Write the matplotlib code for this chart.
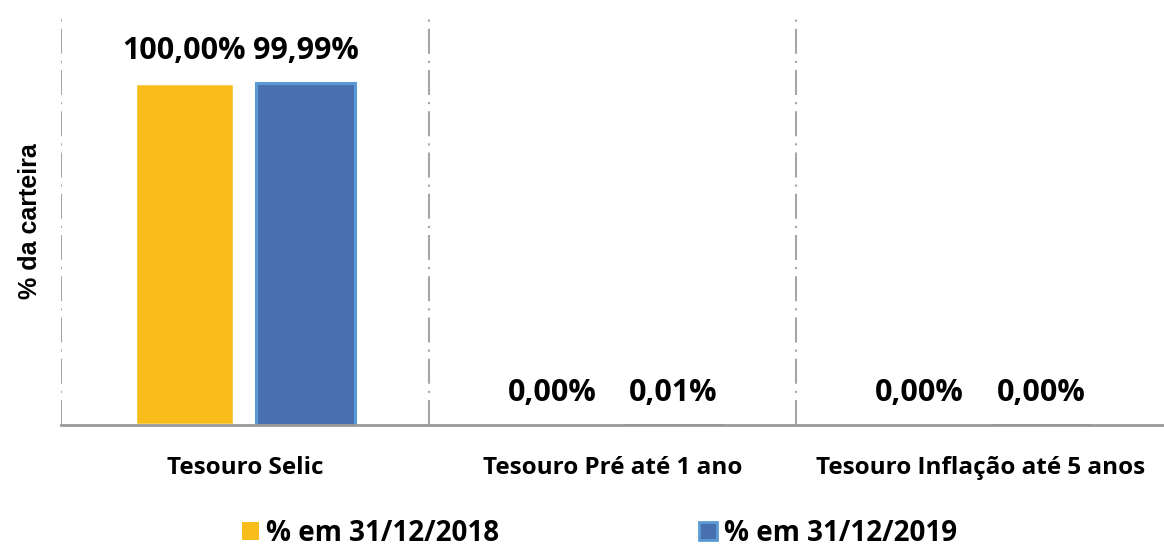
import matplotlib
matplotlib.use("Agg")
import matplotlib.pyplot as plt
from matplotlib.patches import Patch

plt.rcParams['font.family'] = ['Open Sans', 'DejaVu Sans']

categories = ["Tesouro Selic", "Tesouro Pré até 1 ano", "Tesouro Inflação até 5 anos"]
series_names = ["% em 31/12/2018", "% em 31/12/2019"]
values_2018 = [100.00, 0.00, 0.00]
values_2019 = [99.99, 0.01, 0.00]
labels_2018 = ["100,00%", "0,00%", "0,00%"]
labels_2019 = ["99,99%", "0,01%", "0,00%"]

yellow = "#F8BD1A"
blue_face = "#4970AE"
blue_edge = "#5B9BD5"
grid_col = "#A6A6A6"

fig = plt.figure(figsize=(11.64, 5.48), dpi=100)
ax = fig.add_axes([61/1164, 1-425/548, 1-61/1164, (425-17)/548])

x = list(range(len(categories)))
off = 0.165
w = 0.27
b1 = ax.bar([i - off for i in x], values_2018, width=w, color=yellow,
            edgecolor="white", linewidth=2.5, zorder=3)
b2 = ax.bar([i + off for i in x], values_2019, width=w, color=blue_face,
            edgecolor=blue_edge, linewidth=2.2, zorder=3)

for bars, labs in ((b1, labels_2018), (b2, labels_2019)):
    for rect, lab in zip(bars, labs):
        ax.annotate(lab, (rect.get_x() + rect.get_width()/2, rect.get_height()),
                    xytext=(0, 12), textcoords="offset points",
                    ha="center", va="bottom", fontsize=22, fontweight="bold",
                    color="black", zorder=5)

ax.set_xlim(-0.5, 2.5)
ax.set_ylim(0, 119.3)

for gx in (-0.5, 0.5, 1.5):
    ax.axvline(gx, color=grid_col, linewidth=1.5, linestyle=(0, (12, 3.4, 1, 3.4)), zorder=1)

for s in ("top", "right", "left"):
    ax.spines[s].set_visible(False)
ax.spines["bottom"].set_color("#999999")
ax.spines["bottom"].set_linewidth(2)
ax.spines["bottom"].set_zorder(4)

ax.set_yticks([])
ax.set_xticks(x)
ax.set_xticklabels(categories, fontsize=17.5, fontweight="bold")
ax.tick_params(axis="x", length=0, pad=22)

ax.set_ylabel("% da carteira", fontsize=18, fontweight="bold",
              family=["Liberation Sans", "DejaVu Sans"], labelpad=14)

handles = [Patch(facecolor=yellow, edgecolor=yellow, linewidth=0),
           Patch(facecolor=blue_face, edgecolor=blue_edge, linewidth=2)]
fig.legend(handles, series_names, loc="lower center", bbox_to_anchor=(0.515, -0.045),
           ncol=2, frameon=False, prop={"size": 20, "weight": "bold"},
           handlelength=0.62, handleheight=0.62, handletextpad=0.25,
           columnspacing=7.2)

fig.savefig("out.png", dpi=100)
